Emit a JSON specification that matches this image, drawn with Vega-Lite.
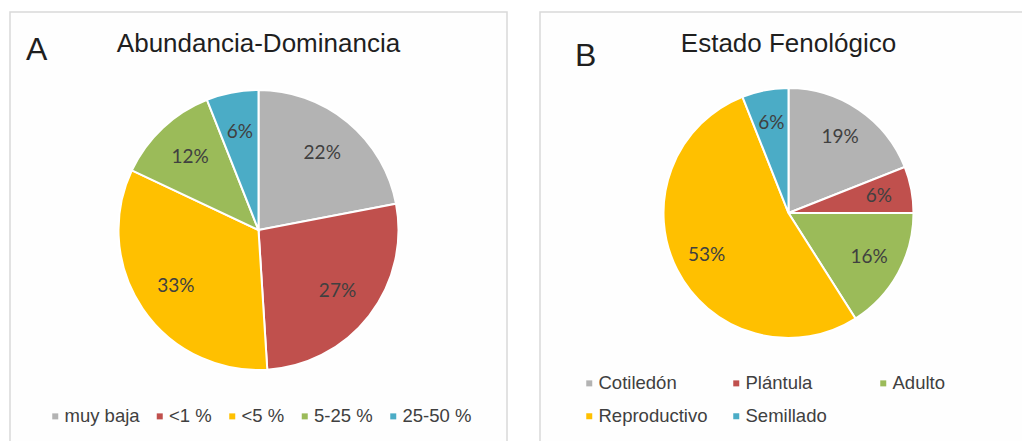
{
  "$schema": "https://vega.github.io/schema/vega-lite/v6.json",
  "background": "white",
  "padding": {"left": 9, "top": 11, "right": 0, "bottom": 0},
  "spacing": 31,
  "config": {
    "view": {"stroke": "#D9D9D9", "strokeWidth": 1.5, "fill": "#FEFEFE"},
    "title": {
      "font": "Liberation Sans",
      "fontSize": 26,
      "fontWeight": "normal",
      "color": "#1F1F1F",
      "anchor": "middle",
      "baseline": "alphabetic",
      "offset": -45
    },
    "legend": {
      "symbolType": "square",
      "symbolSize": 36,
      "symbolStrokeWidth": 0,
      "labelFont": "Liberation Sans",
      "labelFontSize": 18.5,
      "labelColor": "#404040",
      "labelOffset": 0,
      "columnPadding": 10.5,
      "rowPadding": 14,
      "padding": 0
    }
  },
  "resolve": {
    "scale": {"color": "independent"},
    "legend": {"color": "independent"}
  },
  "hconcat": [
    {
      "width": 497,
      "height": 436,
      "view": {"stroke": "#D9D9D9", "strokeWidth": 1.5, "fill": "#FEFEFE"},
      "title": "Abundancia-Dominancia",
      "data": {
        "values": [
          {"clase": "muy baja", "valor": 0.22, "orden": 1},
          {"clase": "<1 %", "valor": 0.27, "orden": 2},
          {"clase": "<5 %", "valor": 0.33, "orden": 3},
          {"clase": "5-25 %", "valor": 0.12, "orden": 4},
          {"clase": "25-50 %", "valor": 0.06, "orden": 5}
        ]
      },
      "layer": [
        {
          "mark": {"type": "arc", "outerRadius": 140, "stroke": "white", "strokeWidth": 2},
          "encoding": {
            "theta": {"field": "valor", "type": "quantitative", "stack": true},
            "order": {"field": "orden", "type": "quantitative"},
            "color": {
              "field": "clase",
              "type": "nominal",
              "sort": ["muy baja", "<1 %", "<5 %", "5-25 %", "25-50 %"],
              "scale": {
                "domain": ["muy baja", "<1 %", "<5 %", "5-25 %", "25-50 %"],
                "range": ["#B3B3B3", "#C0504D", "#FFC000", "#9BBB59", "#4BACC6"]
              },
              "legend": {"title": null, "orient": "none", "legendX": 36, "legendY": 395, "direction": "horizontal", "columns": 5}
            }
          }
        },
        {
          "mark": {"type": "text", "radius": 100, "font": "Lato", "fontSize": 19, "fill": "#404040"},
          "encoding": {
            "theta": {"field": "valor", "type": "quantitative", "stack": true},
            "order": {"field": "orden", "type": "quantitative"},
            "detail": {"field": "clase", "type": "nominal"},
            "text": {"field": "valor", "type": "quantitative", "format": ".0%"}
          }
        },
        {
          "data": {"values": [{"panel": "A"}]},
          "mark": {"type": "text", "align": "left", "baseline": "alphabetic", "dx": -232.5, "dy": -170, "font": "Liberation Sans", "fontSize": 32, "fill": "#1F1F1F"},
          "encoding": {"text": {"field": "panel", "type": "nominal"}}
        }
      ]
    },
    {
      "width": 497,
      "height": 436,
      "view": {"stroke": "#D9D9D9", "strokeWidth": 1.5, "fill": "#FEFEFE"},
      "title": "Estado Fenológico",
      "data": {
        "values": [
          {"estado": "Cotiledón", "valor": 0.19, "orden": 1},
          {"estado": "Plántula", "valor": 0.06, "orden": 2},
          {"estado": "Adulto", "valor": 0.16, "orden": 3},
          {"estado": "Reproductivo", "valor": 0.53, "orden": 4},
          {"estado": "Semillado", "valor": 0.06, "orden": 5}
        ]
      },
      "layer": [
        {
          "mark": {"type": "arc", "outerRadius": 125, "yOffset": -17, "stroke": "white", "strokeWidth": 2},
          "encoding": {
            "theta": {"field": "valor", "type": "quantitative", "stack": true},
            "order": {"field": "orden", "type": "quantitative"},
            "color": {
              "field": "estado",
              "type": "nominal",
              "sort": ["Cotiledón", "Plántula", "Adulto", "Reproductivo", "Semillado"],
              "scale": {
                "domain": ["Cotiledón", "Plántula", "Adulto", "Reproductivo", "Semillado"],
                "range": ["#B3B3B3", "#C0504D", "#9BBB59", "#FFC000", "#4BACC6"]
              },
              "legend": {"title": null, "orient": "none", "legendX": 40, "legendY": 362, "direction": "horizontal", "columns": 3, "gridAlign": "all", "columnPadding": 19}
            }
          }
        },
        {
          "mark": {"type": "text", "radius": 92, "yOffset": -17, "font": "Lato", "fontSize": 19, "fill": "#404040"},
          "encoding": {
            "theta": {"field": "valor", "type": "quantitative", "stack": true},
            "order": {"field": "orden", "type": "quantitative"},
            "detail": {"field": "estado", "type": "nominal"},
            "text": {"field": "valor", "type": "quantitative", "format": ".0%"}
          }
        },
        {
          "data": {"values": [{"panel": "B"}]},
          "mark": {"type": "text", "align": "left", "baseline": "alphabetic", "dx": -213.5, "dy": -164, "font": "Liberation Sans", "fontSize": 32, "fill": "#1F1F1F"},
          "encoding": {"text": {"field": "panel", "type": "nominal"}}
        }
      ]
    }
  ]
}
